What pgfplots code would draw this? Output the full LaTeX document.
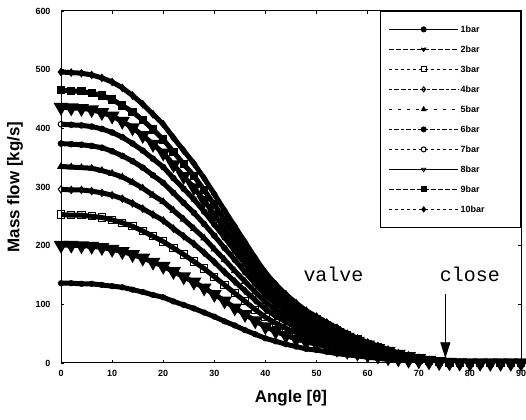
\documentclass[border=0pt]{standalone}
\usepackage{fontspec}
\setmainfont{Liberation Serif}
\setsansfont{Liberation Sans}
\setmonofont{Liberation Mono}
\usepackage{pgfplots}
\pgfplotsset{compat=1.18}
\usepackage{pgfplotstable}
\usetikzlibrary{arrows.meta}
\pgfplotstableread{
x s1 s2 s3 s4 s5 s6 s7 s8 s9 s10
0 136 201 253 296 335 374 407 436 465 496
2 136 201 252 295 334 373 406 435 464 495
4 135 200 252 295 333 372 405 434 463 494
6 135 199 250 293 332 370 403 432 460 491
8 133 197 248 290 328 367 399 427 456 486
10 131 194 244 286 323 361 393 421 449 479
12 129 190 239 280 317 353 385 412 439 469
14 125 185 233 272 308 344 374 401 428 456
16 121 179 225 263 298 333 362 388 414 441
18 116 172 216 253 286 320 348 373 398 424
20 112 165 207 243 275 307 334 358 381 407
22 105 156 196 229 260 290 315 338 360 384
24 99 147 185 216 245 273 297 318 339 362
26 93 138 173 203 229 256 279 299 319 340
28 86 128 161 188 213 237 258 277 295 315
30 79 117 147 172 194 217 236 253 270 288
32 71 106 133 155 176 196 214 229 244 260
34 64 94 119 139 157 176 191 205 219 233
36 56 83 105 123 139 155 169 181 193 206
38 49 72 91 107 121 135 147 157 167 179
40 42 62 78 92 104 116 126 135 144 154
42 37 54 68 80 90 101 110 118 126 134
44 32 47 59 70 79 88 96 102 109 117
46 28 41 52 61 69 77 83 89 95 102
48 24 36 46 53 60 67 73 78 84 89
50 22 32 40 47 54 60 65 70 74 79
52 19 28 35 41 47 52 57 61 65 69
54 16 24 30 36 40 45 49 52 56 60
56 14 20 25 30 33 37 41 44 47 50
58 12 17 21 25 28 32 35 37 40 42
60 10 14 18 21 23 26 28 31 33 35
62 8 12 15 17 19 22 24 25 27 29
64 6 9 12 14 15 17 19 20 21 23
66 5 7 9 10 12 13 14 15 16 17
68 4 5 7 8 9 10 11 11 12 13
70 2 4 5 5 6 7 7 8 8 9
72 1.5 2 3 3 4 4 4 5 5 5
74 1 1 1.5 2 2 2.2 2.4 2.6 2.8 3
76 0.4 0.6 0.8 0.9 1 1.1 1.2 1.3 1.4 1.5
78 0.1 0.2 0.3 0.3 0.3 0.4 0.4 0.4 0.5 0.5
80 0 0 0 0 0 0 0 0 0 0
82 0 0 0 0 0 0 0 0 0 0
84 0 0 0 0 0 0 0 0 0 0
86 0 0 0 0 0 0 0 0 0 0
88 0 0 0 0 0 0 0 0 0 0
90 0 0 0 0 0 0 0 0 0 0
}\mf
\begin{document}
\begin{tikzpicture}
\begin{axis}[
  scale only axis, width=460bp, height=352bp,
  xmin=0, xmax=90, ymin=0, ymax=600,
  xtick={0,10,...,90}, ytick={0,100,...,600},
  tick align=inside, major tick length=3bp,
  axis line style={line width=1bp},
  tick style={line width=0.6bp, black},
  /pgf/number format/assume math mode=true,
  ticklabel style={font=\sffamily\bfseries\fontsize{9}{10}\selectfont},
  yticklabel style={xshift=-7bp},
  xticklabel style={yshift=-4bp},
  xlabel={Angle [θ]}, ylabel={Mass flow [kg/s]},
  label style={font=\sffamily\bfseries\fontsize{17}{19}\selectfont},
  xlabel style={at={(axis description cs:0.5,-0.0994)}, anchor=center},
  ylabel style={at={(axis description cs:-0.1,0.5)}, anchor=center},
  every axis plot/.append style={black, solid, line width=5bp, mark size=3.6bp, mark options={solid, line width=1bp}},
  legend style={at={(1,1)}, anchor=north east, draw=black, line width=0.8bp, fill=white,
    font=\sffamily\bfseries\fontsize{9}{10}\selectfont,
    inner xsep=8bp, inner ysep=12bp, row sep=8bp,
    nodes={inner sep=2bp, text height=7bp, text depth=1bp},
    /tikz/column 2/.style={column sep=8bp, nodes={text width=50bp}}},
  legend cell align=left,
  legend image code/.code={\draw[mark repeat=2,mark phase=2,#1,line width=0.8bp,mark size=2.5bp] plot coordinates {(0bp,0bp) (34.5bp,0bp) (69bp,0bp)};},
]
\addplot[mark=*, mark size=2.6bp] table[y=s1]{\mf};
\addplot[mark=triangle*, mark options={rotate=180}, legend image post style={dotted}] table[y=s2]{\mf};
\addplot[mark=square, legend image post style={dashed}] table[y=s3]{\mf};
\addplot[mark=diamond, legend image post style={dash dot dot}] table[y=s4]{\mf};
\addplot[mark=triangle*, legend image post style={loosely dashed}] table[y=s5]{\mf};
\addplot[mark=*, mark size=2.8bp, legend image post style={dash dot}] table[y=s6]{\mf};
\addplot[mark=o, mark size=2.8bp, legend image post style={dashed}] table[y=s7]{\mf};
\addplot[mark=triangle, mark options={rotate=180}] table[y=s8]{\mf};
\addplot[mark=square*, legend image post style={dotted}] table[y=s9]{\mf};
\addplot[mark=diamond*, legend image post style={dashed}] table[y=s10]{\mf};
\legend{1bar,2bar,3bar,4bar,5bar,6bar,7bar,8bar,9bar,10bar}
\node[font=\ttfamily\fontsize{20}{22}\selectfont] at (axis cs:53.3,151) {valve};
\node[font=\ttfamily\fontsize{20}{22}\selectfont] at (axis cs:80,151) {close};
\draw[-{Triangle[width=10bp,length=16bp]}, line width=0.8bp] (axis cs:75.2,117) -- (axis cs:75.2,8);
\end{axis}
\coordinate (bl) at ([shift={(-61bp,-57bp)}]current axis.south west);
\coordinate (tr) at ([shift={(5bp,11bp)}]current axis.north east);
\pgfresetboundingbox
\useasboundingbox (bl) rectangle (tr);
\end{tikzpicture}
\end{document}
